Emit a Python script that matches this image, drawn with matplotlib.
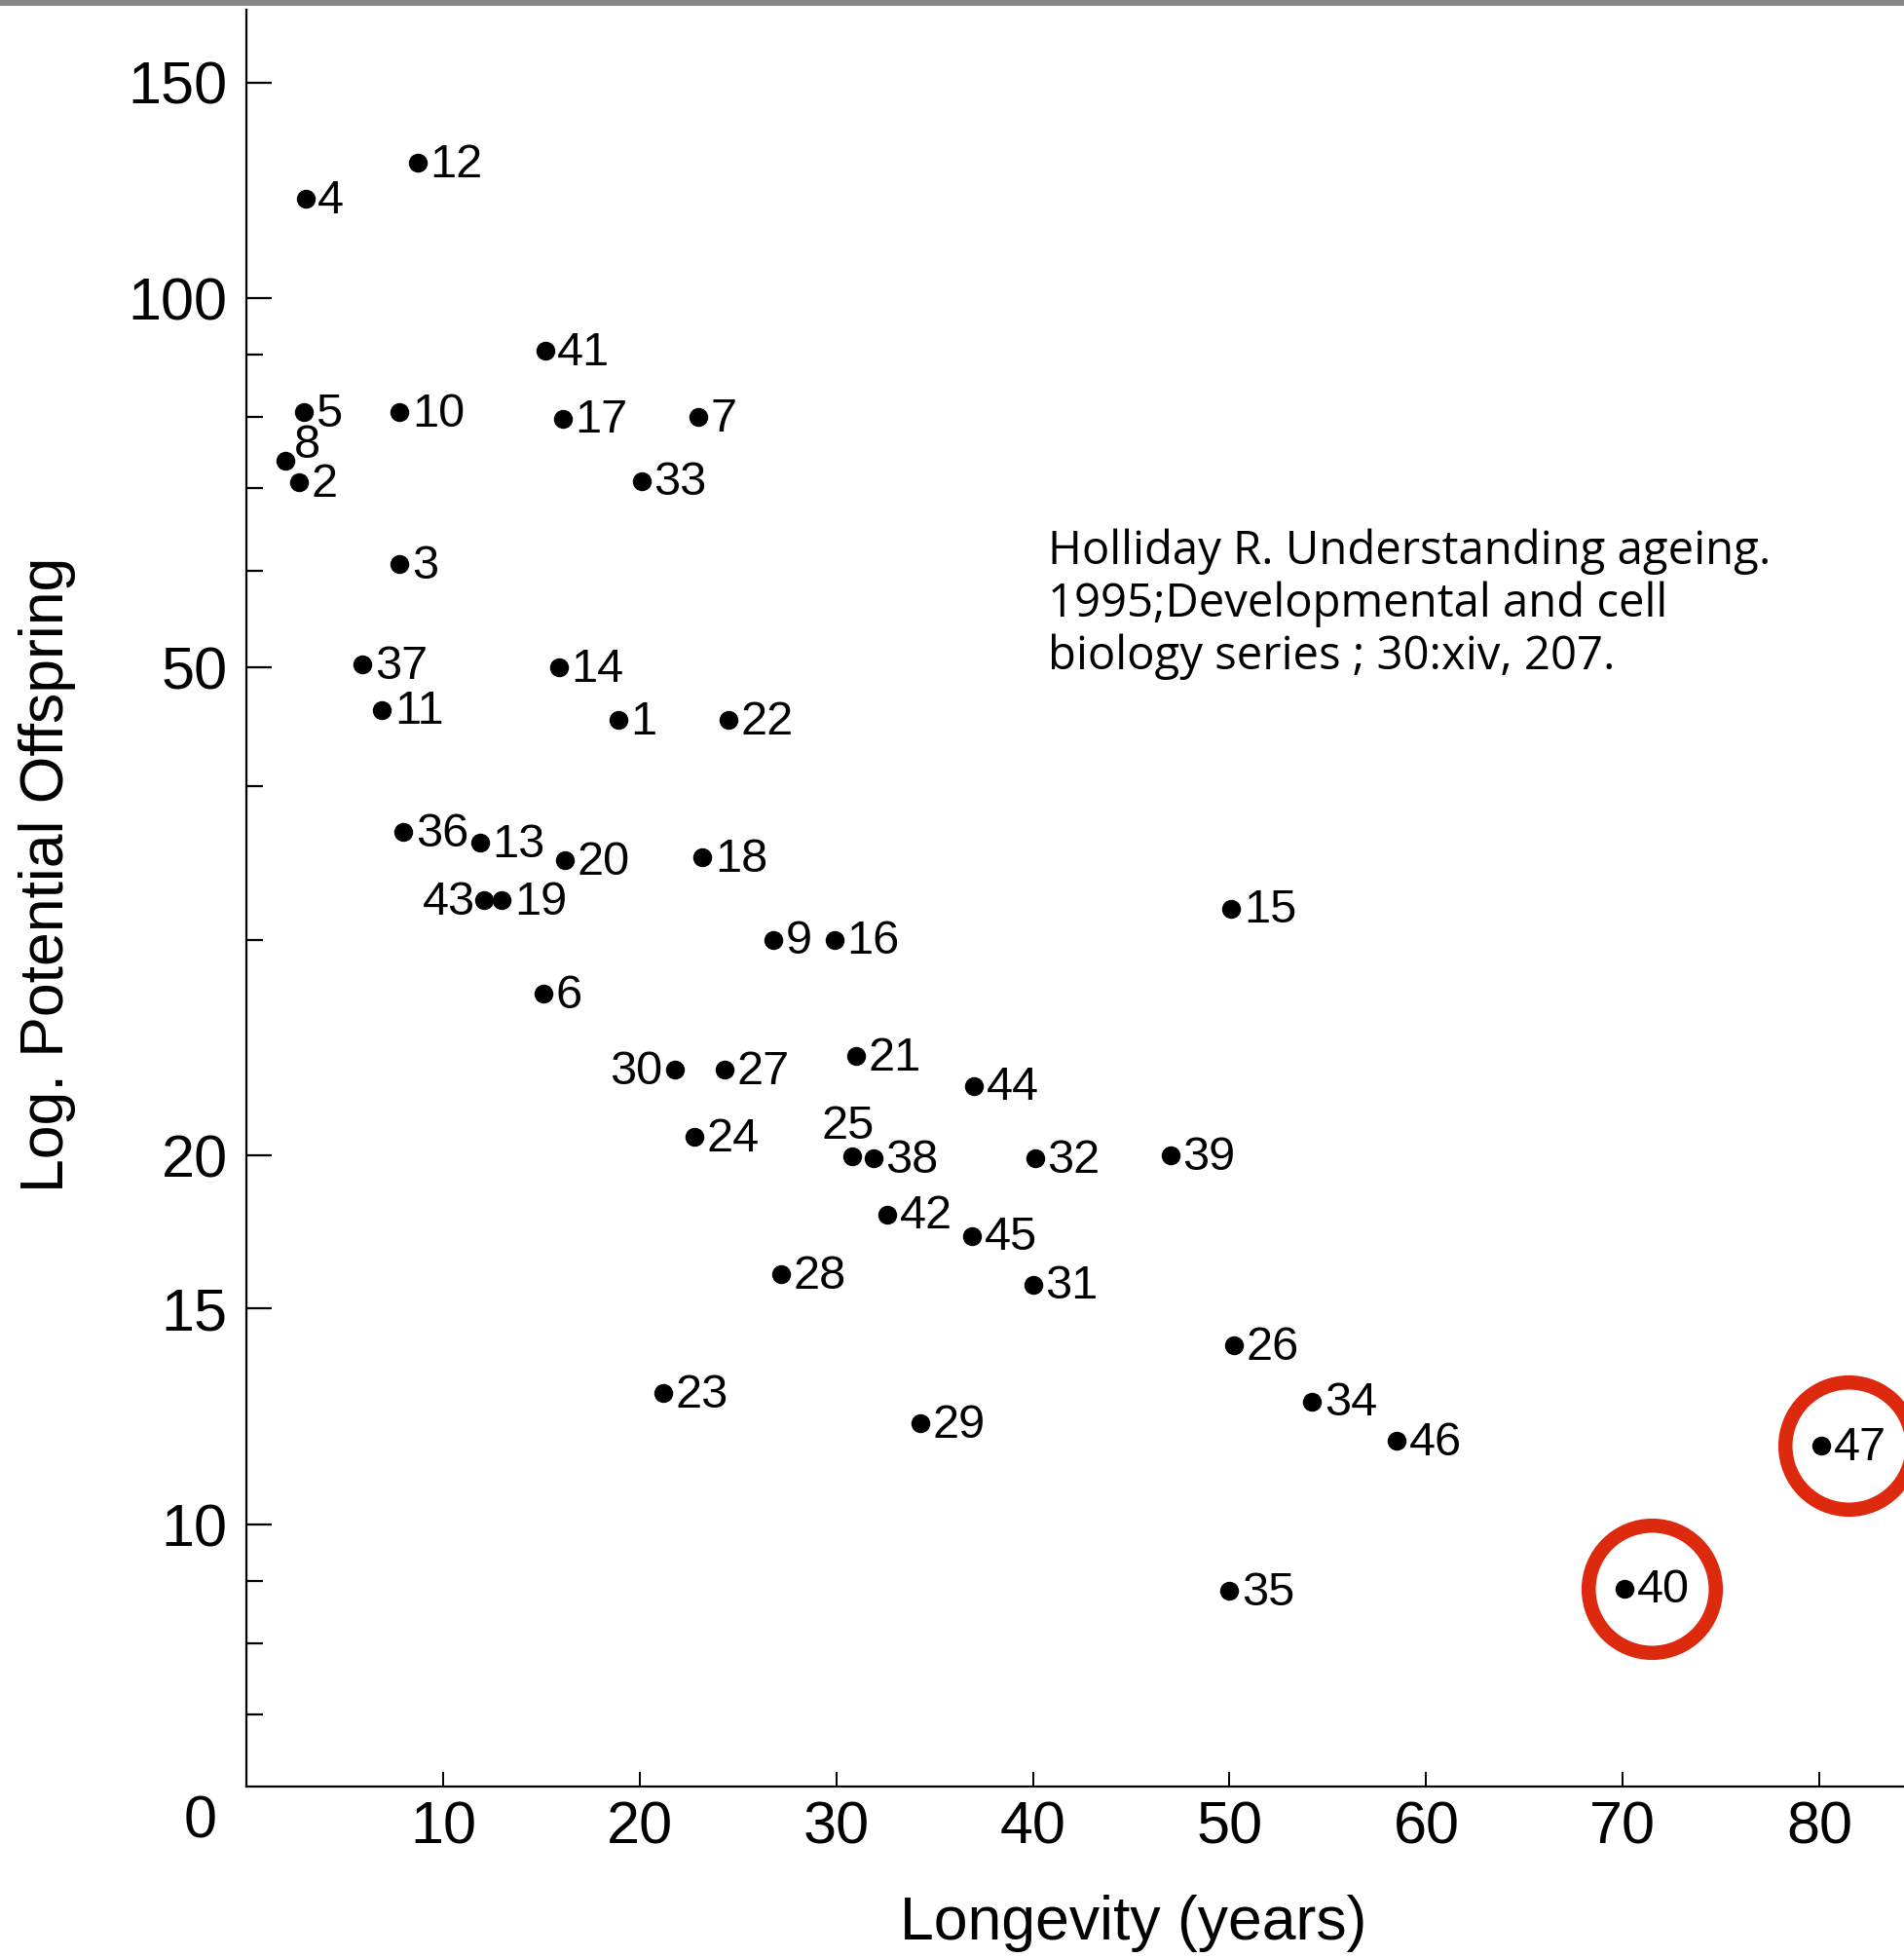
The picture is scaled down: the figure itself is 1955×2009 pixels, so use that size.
import matplotlib
matplotlib.use("Agg")
import matplotlib.pyplot as plt
from matplotlib.transforms import offset_copy

# species number, longevity (years), potential offspring (log scale)
species = [12, 4, 41, 5, 10, 17, 7, 8, 2, 33, 3, 37, 14, 11, 1, 22,
           36, 13, 20, 18, 43, 19, 15, 9, 16, 6, 30, 27, 21, 44, 24,
           25, 38, 32, 39, 42, 45, 28, 31, 26, 34, 46, 47, 23, 29, 35, 40]
longevity = [8.7, 3.0, 15.2, 2.9, 7.8, 16.1, 23.0, 2.0, 2.7, 20.1, 7.8, 5.9, 15.9, 6.9, 18.9, 24.5,
             8.0, 11.9, 16.2, 23.2, 12.1, 13.0, 50.1, 26.8, 29.9, 15.1, 21.8, 24.3, 31.0, 37.0, 22.8,
             30.8, 31.9, 40.1, 47.0, 32.6, 36.9, 27.2, 40.0, 50.2, 54.2, 58.5, 80.1, 21.2, 34.3, 50.0, 70.1]
offspring = [129, 120.6, 90.6, 80.8, 80.8, 79.8, 80.0, 73.8, 70.8, 71.0, 60.7, 50.3, 50.0, 46.2, 45.3, 45.3,
             36.7, 36.0, 34.8, 35.0, 32.3, 32.3, 31.8, 30.0, 30.0, 27.1, 23.5, 23.5, 24.1, 22.8, 20.7,
             19.96, 19.9, 19.9, 20.0, 17.9, 17.2, 16.0, 15.7, 14.0, 12.6, 11.7, 11.6, 12.8, 12.1, 8.83, 8.87]

highlighted = [40, 47]

y_major = [10, 15, 20, 50, 100, 150]
y_minor = [7, 8, 9, 30, 40, 60, 70, 80, 90]
x_major = [10, 20, 30, 40, 50, 60, 70, 80]

citation = "Holliday R. Understanding ageing.\n1995;Developmental and cell\nbiology series ; 30:xiv, 207."

# labels that are not placed to the right of their dot: (dx, dy, ha)
special = {8: (16, 11, "center"), 30: (-9, -1.5, "right"), 43: (-7, -1.5, "right"),
           25: (-3, 22, "center")}

plt.rcParams["font.family"] = ["Liberation Sans", "DejaVu Sans"]

fig = plt.figure(figsize=(19.55, 20.09), dpi=100)
ax = fig.add_axes([0.1294, 0.0869, 1 - 0.1294, 0.995 - 0.0869])

ax.plot(longevity, offspring, "o", color="black", ms=13, clip_on=False)

for s, x, y in zip(species, longevity, offspring):
    dx, dy, ha = special.get(s, (9, -1.5, "left"))
    ax.annotate(str(s), (x, y), xytext=(dx, dy), textcoords="offset points",
                ha=ha, va="center", fontsize=35)

# red rings round the highlighted species
ring = offset_copy(ax.transData, fig=fig, x=20, y=0, units="points")
for s, x, y in zip(species, longevity, offspring):
    if s in highlighted:
        ax.plot([x], [y], "o", mfc="none", mec="#dd2a0f", ms=94, mew=10.5,
                transform=ring, clip_on=False)

ax.set_yscale("log")
ax.set_xlim(0, 84.3)
ax.set_ylim(6.11, 172)
ax.set_yticks(y_major)
ax.set_yticklabels([str(v) for v in y_major])
ax.set_yticks(y_minor, minor=True)
ax.set_yticklabels([], minor=True)
ax.set_xticks(x_major)
ax.set_xticklabels([str(v) for v in x_major])

ax.spines["top"].set_visible(False)
ax.spines["right"].set_visible(False)
for sp in ["left", "bottom"]:
    ax.spines[sp].set_linewidth(1.6)
ax.tick_params(axis="y", which="major", direction="in", length=19, width=1.6,
               labelsize=44, pad=14)
ax.tick_params(axis="y", which="minor", direction="in", length=12, width=1.6)
ax.tick_params(axis="x", which="major", direction="in", length=11, width=1.4,
               labelsize=44, pad=10)

# shared origin label
ax.annotate("0", (0, 6.11), xytext=(-34, -26), textcoords="offset points",
            ha="center", va="center", fontsize=44)

fig.text(0.025, 0.553, "Log. Potential Offspring", rotation=90,
         ha="center", va="center", fontsize=45)
fig.text(0.595, 0.017, "Longevity (years)", ha="center", va="center", fontsize=45)

fig.text(0.5504, 0.730, citation, ha="left", va="top", fontsize=34,
         family="Open Sans", linespacing=1.18)

# grey strip along the top edge of the scan
fig.add_artist(plt.Rectangle((0, 0.997), 1, 0.003, transform=fig.transFigure,
                             color="#888888", lw=0))

fig.savefig("out.png", dpi=100)
